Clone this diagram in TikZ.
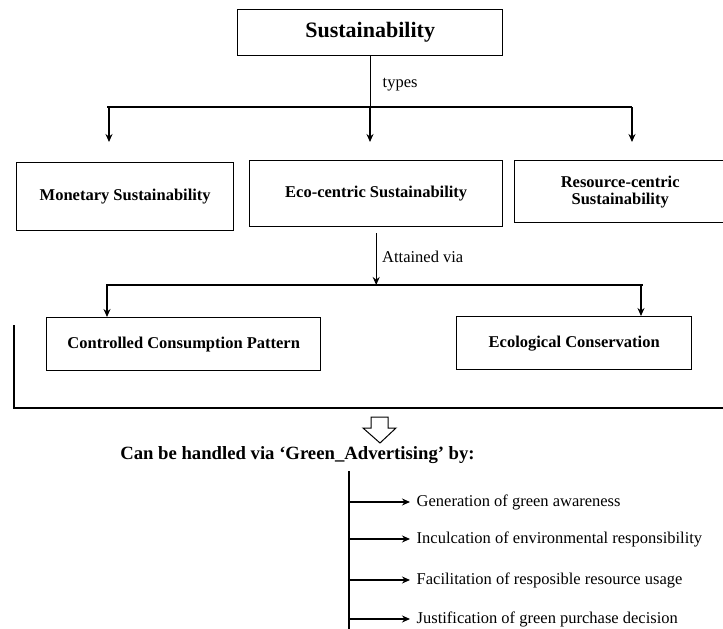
\documentclass[tikz,border=0pt]{standalone}
\usepackage{fontspec}
\setmainfont{Liberation Serif}
\usetikzlibrary{calc,arrows.meta}

\begin{document}
\begin{tikzpicture}[>={Stealth[length=8pt,width=7pt]},x=1pt,y=-1pt,line width=1.4pt,
    box/.style={draw,inner sep=0pt,anchor=north west,align=center,
        font=\bfseries\fontsize{16.5}{17}\selectfont},
    lbl/.style={anchor=west,inner sep=6pt,font=\fontsize{16.5}{19}\selectfont}]
    \useasboundingbox (0,0) rectangle (723,629);
    % first level
    \node[box,minimum width=265,minimum height=46,
        font=\bfseries\fontsize{22}{24}\selectfont] (sus) at (237,9) {Sustainability};
    \node[box,minimum width=217,minimum height=68] (mon) at (16,162) {Monetary Sustainability};
    \node[box,minimum width=253,minimum height=66] (eco) at (249,160) {Eco-centric Sustainability};
    \node[box,minimum width=211,minimum height=62] (res) at (514,160) {Resource-centric\\Sustainability};
    \coordinate (tl) at (107,107);
    \coordinate (tr) at (632,107);
    \draw (sus.south) -- (sus.south |- tl);
    \node[lbl] (types) at (376,85) {types};
    \draw (tl) -- (tr);
    \foreach \n/\x in {1/109,2/370,3/632}{
        \coordinate (t\n) at (\x,107);
        \coordinate (d\n) at (\x,142);
        \draw[->] (t\n) -- (d\n);}
    % second level
    \coordinate (ml) at (106,285);
    \coordinate (mr) at (643,285);
    \draw[->] ($(eco.south)+(0,6)$) -- (eco.south |- ml);
    \node[lbl] (att) at (375.5,257) {Attained via};
    \draw (ml) -- (mr);
    \node[box,minimum width=274,minimum height=53] (ctrl) at (46,317) {Controlled Consumption Pattern};
    \node[box,minimum width=235,minimum height=53] (ecol) at (456,316) {Ecological Conservation};
    \coordinate (m1) at (107,285);
    \coordinate (m2) at (641,285);
    \draw[->] (m1) -- (m1 |- ctrl.north);
    \draw[->] (m2) -- (m2 |- ecol.north);
    \coordinate (bl) at (14,325);
    \coordinate (bc) at (14,408);
    \coordinate (br) at (724,408);
    \draw (bl) -- (bc) -- (br);
    % hollow arrow
    \draw[line width=1pt] (371,417) -- (388,417) -- (388,428) -- (396,428) -- (380,443)
        -- (363,428) -- (371,428) -- cycle;
    % green advertising
    \node[font=\bfseries\fontsize{18.7}{20}\selectfont] (adv) at (297.5,455)
        {Can be handled via `Green\_Advertising' by:};
    \coordinate (vt) at (349,471);
    \coordinate (vb) at (349,630);
    \draw (vt) -- (vb);
    \foreach \y/\t [count=\i] in {502/Generation of green awareness,
        539/Inculcation of environmental responsibility,
        580/Facilitation of resposible resource usage,
        619/Justification of green purchase decision}{
        \node[lbl] (g\i) at (410,\y) {\t};
        \draw[->] (vt |- g\i.west) -- (g\i.west);}
\end{tikzpicture}
\end{document}
